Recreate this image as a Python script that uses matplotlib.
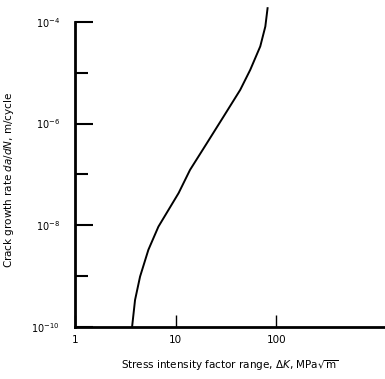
import matplotlib.pyplot as plt
from matplotlib.ticker import FixedLocator, FixedFormatter, NullFormatter

# Zakres wspolczynnika intensywnosci naprezen i predkosc wzrostu pekniecia
delta_k = [3.69, 3.95, 4.43, 5.36, 6.74, 8.48, 10.7, 13.9, 20.4, 29.9,
           43.8, 55.1, 69.3, 77.8, 81.9]
dadn = [1.0e-10, 3.4e-10, 9.8e-10, 3.3e-9, 9.4e-9, 2.0e-8, 4.3e-8, 1.23e-7,
        4.1e-7, 1.37e-6, 4.6e-6, 1.14e-5, 3.3e-5, 8.1e-5, 1.86e-4]

y_major = [1e-10, 1e-8, 1e-6, 1e-4]
y_major_labels = [r'$10^{-10}$', r'$10^{-8}$', r'$10^{-6}$', r'$10^{-4}$']
y_minor = [1e-9, 1e-7, 1e-5]
x_ticks = [1, 10, 100]
x_tick_labels = ['1', '10', '100']

fig = plt.figure(figsize=(3.85, 3.79), dpi=100)
ax = fig.add_axes([75/385, 1 - 327/379, 310/385, 327/379])

ax.plot(delta_k, dadn, color='black', linewidth=1.4)

ax.set_xscale('log')
ax.set_yscale('log')
ax.set_xlim(1, 10**3.08)
ax.set_ylim(1e-10, 10**-3.57)

for s in ['top', 'right']:
    ax.spines[s].set_visible(False)
ax.spines['left'].set_bounds(1e-10, 1e-4)
ax.spines['left'].set_linewidth(2)
ax.spines['bottom'].set_linewidth(2)

ax.yaxis.set_major_locator(FixedLocator(y_major))
ax.yaxis.set_major_formatter(FixedFormatter(y_major_labels))
ax.yaxis.set_minor_locator(FixedLocator(y_minor))
ax.yaxis.set_minor_formatter(NullFormatter())
ax.tick_params(axis='y', which='major', direction='in', length=13, width=1.5,
               pad=11, labelsize=7)
ax.tick_params(axis='y', which='minor', direction='in', length=9, width=1.5)

ax.xaxis.set_major_locator(FixedLocator(x_ticks))
ax.xaxis.set_major_formatter(FixedFormatter(x_tick_labels))
ax.xaxis.set_minor_locator(FixedLocator([]))
ax.tick_params(axis='x', which='major', direction='in', length=9, width=1,
               pad=6, labelsize=7.5)

ax.set_xlabel(r'Stress intensity factor range, $\Delta K$, MPa$\sqrt{\mathrm{m}}$',
              fontsize=7.5)
ax.xaxis.set_label_coords(0.5, -0.095)
ax.set_ylabel(r'Crack growth rate $da/dN$, m/cycle', fontsize=7.5)
ax.yaxis.set_label_coords(-0.19, 0.45)

fig.savefig('out.png', dpi=100)
